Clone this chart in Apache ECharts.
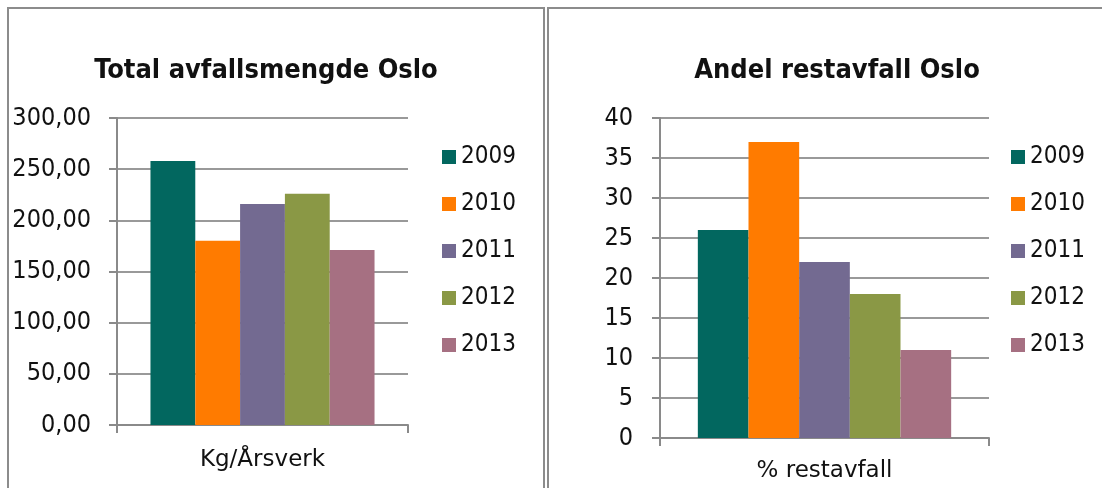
<!DOCTYPE html>
<html>
<head>
<meta charset="utf-8">
<script src="https://cdn.jsdelivr.net/npm/echarts@6/dist/echarts.min.js"></script>
<style>
html,body{margin:0;padding:0;background:#fff;}
#c{width:1102px;height:488px;}
</style>
</head>
<body>
<div id="c"></div>
<script>
var years = ['2009', '2010', '2011', '2012', '2013'];
var colors = ['#02675F', '#FF7B00', '#736A91', '#8A9845', '#A67082'];
var leftTitle = 'Total avfallsmengde Oslo';
var rightTitle = 'Andel restavfall Oslo';
var leftCategory = ['Kg/Årsverk'];
var rightCategory = ['% restavfall'];
var totalKg = [258, 180, 216, 226, 171];
var restPct = [26, 37, 22, 18, 11];
var leftAxis = { min: 0, max: 300, interval: 50 };
var rightAxis = { min: 0, max: 40, interval: 5 };

var FONT = '"DejaVu Sans Condensed", "DejaVu Sans", sans-serif';
var FONT_WIDE = '"DejaVu Sans", sans-serif';
var chart = echarts.init(document.getElementById('c'));

function yAxis(gridIndex, ax, fmt, margin) {
  return {
    type: 'value', gridIndex: gridIndex, min: ax.min, max: ax.max, interval: ax.interval,
    axisLine: { show: true, lineStyle: { color: '#8a8a8a', width: 2 } },
    axisTick: { show: true, length: 8, lineStyle: { color: '#8a8a8a', width: 2 } },
    splitLine: { show: true, lineStyle: { color: '#999', width: 2 } },
    axisLabel: { color: '#111', fontSize: 25, fontFamily: FONT, margin: margin, formatter: fmt }
  };
}
function xAxis(gridIndex, cats, margin) {
  return {
    type: 'category', gridIndex: gridIndex, data: cats,
    axisLine: { show: true, lineStyle: { color: '#8a8a8a', width: 2 } },
    axisTick: { show: true, length: 8, lineStyle: { color: '#8a8a8a', width: 2 } },
    axisLabel: { color: '#111', fontSize: 23, fontFamily: FONT_WIDE, margin: margin }
  };
}
var series = [];
years.forEach(function (y, i) {
  series.push({ name: y, type: 'bar', xAxisIndex: 0, yAxisIndex: 0, data: [totalKg[i]],
    itemStyle: { color: colors[i] }, barGap: '0%', barCategoryGap: '23%' });
});
years.forEach(function (y, i) {
  series.push({ name: y, type: 'bar', xAxisIndex: 1, yAxisIndex: 1, data: [restPct[i]],
    itemStyle: { color: colors[i] }, barGap: '0%', barCategoryGap: '23%' });
});
function legend(left) {
  return {
    data: years, orient: 'vertical', left: left, top: 145, padding: 0,
    itemWidth: 14, itemHeight: 14, itemGap: 23, icon: 'rect',
    textStyle: { fontSize: 24, fontFamily: FONT, color: '#111', lineHeight: 24 }
  };
}
chart.setOption({
  animation: false,
  color: colors,
  title: [
    { text: leftTitle, left: 261, top: 52, textAlign: 'center',
      textStyle: { fontSize: 27, fontWeight: 'bold', fontFamily: FONT, color: '#111' } },
    { text: rightTitle, left: 832, top: 52, textAlign: 'center',
      textStyle: { fontSize: 27, fontWeight: 'bold', fontFamily: FONT, color: '#111' } }
  ],
  legend: [legend(442), legend(1011)],
  grid: [
    { left: 117, right: 694, top: 118, bottom: 63 },
    { left: 660, right: 113, top: 118, bottom: 50 }
  ],
  xAxis: [xAxis(0, leftCategory, 24), xAxis(1, rightCategory, 22)],
  yAxis: [
    yAxis(0, leftAxis, function (v) { return v.toFixed(2).replace('.', ','); }, 26),
    yAxis(1, rightAxis, function (v) { return String(v); }, 27)
  ],
  series: series,
  graphic: [
    { type: 'rect', shape: { x: 8, y: 8, width: 536, height: 520 },
      style: { fill: 'none', stroke: '#8c8c8c', lineWidth: 2 }, silent: true, z: -1 },
    { type: 'rect', shape: { x: 548, y: 8, width: 600, height: 520 },
      style: { fill: 'none', stroke: '#8c8c8c', lineWidth: 2 }, silent: true, z: -1 }
  ]
});
</script>
</body>
</html>
